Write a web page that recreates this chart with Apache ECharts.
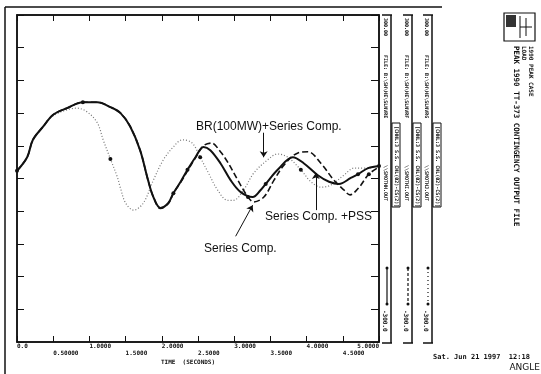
<!DOCTYPE html>
<html><head><meta charset="utf-8">
<script src="https://cdn.jsdelivr.net/npm/echarts@6/dist/echarts.min.js"></script>
<style>html,body{margin:0;padding:0;background:#fff}#c{width:541px;height:374px}</style>
</head><body><div id="c"></div>
<script>
// Time ticks (seconds) and their printed labels
const tickLabels = ['0.0','0.50000','1.0000','1.5000','2.0000','2.5000','3.0000','3.5000','4.0000','4.5000','5.0000'];

// Series Comp. +PSS (solid)
const pssT = [0, 0.14, 0.22, 0.36, 0.5, 0.69, 0.91, 1.11, 1.29, 1.43, 1.565, 1.70, 1.81, 1.884, 1.98, 2.09, 2.16, 2.26, 2.355, 2.465, 2.576, 2.67, 2.81, 2.95, 3.09, 3.255, 3.366, 3.435, 3.6, 3.81, 3.96, 4.155, 4.31, 4.446, 4.61, 4.71, 4.85, 5.0];
const pssV = [14, 39, 71, 95, 117, 129, 140, 140, 131, 120, 95, 52, -3, -34, -54, -45, -27, -6, 16, 39, 58, 52, 28, -3, -25, -34, -21, -10, 16, 39, 28, 6, -6, -10, 1, 8, 19, 23];
const pssMarks = [0, 6, 16, 18, 27, 35, 37];

// Series Comp. (dashed)
const scT = [0, 0.14, 0.22, 0.36, 0.5, 0.69, 0.91, 1.11, 1.29, 1.43, 1.565, 1.70, 1.81, 1.884, 1.98, 2.09, 2.16, 2.26, 2.355, 2.465, 2.576, 2.687, 2.81, 2.91, 3.05, 3.19, 3.27, 3.41, 3.55, 3.69, 3.88, 4.02, 4.197, 4.377, 4.515, 4.6, 4.72, 4.86, 5.0];
const scV = [14, 39, 71, 95, 117, 129, 140, 140, 131, 120, 95, 52, -3, -34, -55, -46, -27, -7, 14, 38, 60, 65, 49, 30, -3, -34, -43, -34, -3, 25, 47, 49, 28, -3, -21, -30, -17, 8, 21];
const scMarks = [25, 37];

// BR(100MW)+Series Comp. (dotted)
const brT = [0, 0.14, 0.22, 0.36, 0.5, 0.69, 0.83, 0.97, 1.11, 1.19, 1.29, 1.385, 1.43, 1.5, 1.61, 1.745, 1.884, 2.02, 2.16, 2.285, 2.42, 2.53, 2.645, 2.77, 2.91, 2.99, 3.13, 3.27, 3.46, 3.6, 3.74, 3.92, 4.06, 4.2, 4.335, 4.515, 4.655, 4.82, 5.0];
const brV = [14, 39, 71, 95, 115, 126, 129, 122, 102, 71, 36, 3, -18, -45, -58, -45, -3, 34, 58, 71, 65, 39, 10, -21, -40, -40, -21, 10, 34, 45, 39, 16, -6, -16, -12, 6, 19, 19, 23];
const brMarks = [10, 21, 31];

const seriesNames = ['Series Comp. +PSS', 'Series Comp.', 'BR(100MW)+Series Comp.'];

function build(T, V, marks) {
  return T.map((t, i) => ({ value: [t, V[i]], symbol: marks.includes(i) ? 'circle' : 'none' }));
}

const chart = echarts.init(document.getElementById('c'), null, { renderer: 'canvas' });
const mono5 = 'bold 5px "DejaVu Sans Mono", monospace';
const txtFont = '12px "Liberation Sans", Arial, sans-serif';

function vtext(x, y, t, font) {
  return { type: 'text', x: x, y: y, rotation: -Math.PI / 2, style: { text: t, font: font || mono5, fill: '#111', align: 'left', verticalAlign: 'middle' } };
}
function line(x1, y1, x2, y2, w, dash) {
  return { type: 'line', shape: { x1, y1, x2, y2 }, style: { stroke: '#111', lineWidth: w || 1.5, lineDash: dash || null } };
}

const strips = [
  { lx: 391, tx: 385, bx: 396, leg: 'solid' },
  { lx: 412, tx: 406, bx: 417, leg: [3, 2] },
  { lx: 432, tx: 426, bx: 437, leg: [1, 3] }
];
const graphics = [
  line(5, 7, 5, 374, 1.5),
  line(5, 7, 442, 7, 1.5)
];
const stripFiles = ['FILE: B:\\SH\\HE\\SLNVRE', 'FILE: B:\\SH\\HE\\SLNVRF', 'FILE: B:\\SH\\HE\\SLNVRG'];
const stripSub = ['\\\\SMOTHH.OUT', '\\\\SMOTHI.OUT', '\\\\SMOTHJ.OUT'];
strips.forEach((s, i) => {
  graphics.push(line(s.lx, 15, s.lx, 343, 1.5));
  graphics.push(line(s.lx - 9, 15, s.lx + 1, 15, 1.5));
  graphics.push(line(s.lx - 9, 343, s.lx + 1, 343, 1.5));
  graphics.push(vtext(s.tx, 18, '300.00'));
  graphics.push(vtext(s.tx, 55, stripFiles[i]));
  graphics.push(vtext(s.tx, 165, stripSub[i]));
  graphics.push(vtext(s.bx, 126, '[CHNL:3 S.S. CHL(02)-CS(2)]'));
  graphics.push({ type: 'rect', shape: { x: s.bx - 4, y: 123, width: 8, height: 84 }, style: { fill: null, stroke: '#111', lineWidth: 1 } });
  graphics.push(vtext(s.tx, 310, '-300.0', 'bold 6px "DejaVu Sans Mono", monospace'));
  graphics.push(line(s.tx + 2, 268, s.tx + 2, 305, 1.2, s.leg === 'solid' ? null : s.leg));
  graphics.push({ type: 'circle', shape: { cx: s.tx + 2, cy: 268, r: 1.5 }, style: { fill: '#111' } });
  graphics.push({ type: 'circle', shape: { cx: s.tx + 2, cy: 304, r: 1.5 }, style: { fill: '#111' } });
});
// title block at right
graphics.push({ type: 'rect', shape: { x: 504, y: 13, width: 31, height: 28 }, style: { fill: null, stroke: '#111', lineWidth: 1.2 } });
graphics.push({ type: 'rect', shape: { x: 506, y: 15, width: 10, height: 12 }, style: { fill: '#333' } });
graphics.push(line(520, 16, 520, 38, 1));
graphics.push(line(526, 18, 526, 36, 1));
graphics.push(line(520, 27, 532, 27, 1));
graphics.push(vtext(531, 46, '1990 PEAK CASE', 'bold 6px "DejaVu Sans Mono", monospace'));
graphics.push(vtext(524, 46, 'LOAD', 'bold 6px "DejaVu Sans Mono", monospace'));
graphics.push(vtext(516, 46, 'PEAK 1990 TT-373 CONTINGENCY OUTPUT FILE', 'bold 7.5px "DejaVu Sans Mono", monospace'));
graphics.push({ type: 'text', x: 433, y: 357, style: { text: 'Sat. Jun 21 1997  12:18', font: 'bold 7px "DejaVu Sans Mono", monospace', fill: '#111', align: 'left', verticalAlign: 'middle' } });
graphics.push({ type: 'text', x: 540, y: 368, style: { text: 'ANGLE', font: '9px "DejaVu Sans", sans-serif', fill: '#111', align: 'right', verticalAlign: 'middle' } });
graphics.push({ type: 'text', x: 188, y: 362, style: { text: 'TIME  (SECONDS)', font: 'bold 6px "DejaVu Sans Mono", monospace', fill: '#111', align: 'center', verticalAlign: 'middle' } });
// annotations
graphics.push({ type: 'text', x: 196, y: 127, style: { text: 'BR(100MW)+Series Comp.', font: txtFont, fill: '#111', align: 'left', verticalAlign: 'middle' } });
graphics.push({ type: 'text', x: 265, y: 217, style: { text: 'Series Comp. +PSS', font: txtFont, fill: '#111', align: 'left', verticalAlign: 'middle' } });
graphics.push({ type: 'text', x: 204, y: 249, style: { text: 'Series Comp.', font: txtFont, fill: '#111', align: 'left', verticalAlign: 'middle' } });

const arrowStyle = { color: '#111', width: 1, type: 'solid' };
function arrow(a, b) {
  return [{ coord: a, lineStyle: arrowStyle }, { coord: b }];
}
const axLine = { show: true, onZero: false, lineStyle: { color: '#111', width: 1.5 } };
const lblBase = { show: true, fontSize: 6, fontWeight: 'bold', fontFamily: '"DejaVu Sans Mono", monospace', color: '#111',
  align: 'left', verticalAlign: 'top', showMaxLabel: true, showMinLabel: true };

const option = {
  animation: false,
  backgroundColor: '#fff',
  grid: { left: 17, top: 15, right: 162, bottom: 32, show: true, borderColor: '#111', borderWidth: 1.5 },
  xAxis: [{
    type: 'value', min: 0, max: 5, interval: 0.5, position: 'bottom',
    axisLine: axLine,
    axisTick: { show: true, inside: true, length: 6, lineStyle: { color: '#111', width: 1 } },
    splitLine: { show: false },
    axisLabel: Object.assign({}, lblBase, { margin: 1, alignMaxLabel: 'right',
      formatter: function (val) { const i = Math.round(val / 0.5); return i % 2 ? '' : tickLabels[i]; } })
  }, {
    type: 'value', min: 0, max: 5, interval: 0.5, position: 'top',
    axisLine: axLine,
    axisTick: { show: true, inside: true, length: 6, lineStyle: { color: '#111', width: 1 } },
    axisLabel: { show: false }, splitLine: { show: false }
  }, {
    type: 'value', min: 0, max: 5, interval: 0.5, position: 'bottom',
    axisLine: { show: false, onZero: false }, axisTick: { show: false }, splitLine: { show: false },
    axisLabel: Object.assign({}, lblBase, { margin: 8,
      formatter: function (val) { const i = Math.round(val / 0.5); return i % 2 ? tickLabels[i] : ''; } })
  }],
  yAxis: [{
    type: 'value', min: -300, max: 300, interval: 60, position: 'left',
    axisLine: axLine,
    axisTick: { show: true, inside: true, length: 7, lineStyle: { color: '#111', width: 1 } },
    axisLabel: { show: false }, splitLine: { show: false }
  }, {
    type: 'value', min: -300, max: 300, interval: 60, position: 'right',
    axisLine: axLine,
    axisTick: { show: true, inside: true, length: 8, lineStyle: { color: '#111', width: 1 } },
    axisLabel: { show: false }, splitLine: { show: false }
  }],
  series: [{
    name: seriesNames[2], type: 'line', smooth: 0.35, data: build(brT, brV, brMarks),
    showSymbol: true, showAllSymbol: true, symbolSize: 4, itemStyle: { color: '#111' },
    lineStyle: { color: '#777', width: 1.2, type: [1, 2] },
    markLine: { silent: true, symbol: ['none', 'arrow'], symbolSize: 6, label: { show: false }, data: [arrow([3.407, 84], [3.407, 39])] }
  }, {
    name: seriesNames[1], type: 'line', smooth: 0.35, data: build(scT, scV, scMarks),
    showSymbol: true, showAllSymbol: true, symbolSize: 4, itemStyle: { color: '#111' },
    lineStyle: { color: '#111', width: 1.6, type: [6, 3] },
    markLine: { silent: true, symbol: ['none', 'arrow'], symbolSize: 6, label: { show: false }, data: [arrow([3.02, -106], [3.255, -49])] }
  }, {
    name: seriesNames[0], type: 'line', smooth: 0.35, data: build(pssT, pssV, pssMarks),
    showSymbol: true, showAllSymbol: true, symbolSize: 4, itemStyle: { color: '#111' },
    lineStyle: { color: '#111', width: 2 },
    markLine: { silent: true, symbol: ['none', 'arrow'], symbolSize: 6, label: { show: false }, data: [arrow([4.127, -58], [4.127, 10])] }
  }],
  graphic: graphics
};
chart.setOption(option);
</script>
</body></html>
